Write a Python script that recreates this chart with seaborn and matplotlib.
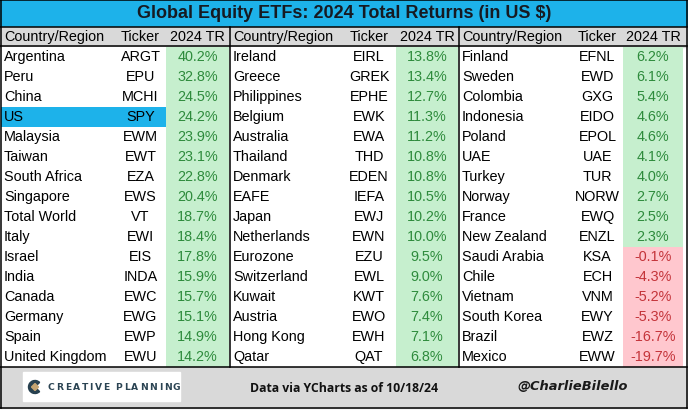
import numpy as np
import matplotlib
matplotlib.use("Agg")
import matplotlib.pyplot as plt
from matplotlib.colors import ListedColormap
from matplotlib.patches import Rectangle, Wedge, Polygon
import seaborn as sns

countries_1 = ["Argentina", "Peru", "China", "US", "Malaysia", "Taiwan", "South Africa",
               "Singapore", "Total World", "Italy", "Israel", "India", "Canada",
               "Germany", "Spain", "United Kingdom"]
tickers_1 = ["ARGT", "EPU", "MCHI", "SPY", "EWM", "EWT", "EZA", "EWS", "VT", "EWI",
             "EIS", "INDA", "EWC", "EWG", "EWP", "EWU"]
returns_1 = [40.2, 32.8, 24.5, 24.2, 23.9, 23.1, 22.8, 20.4, 18.7, 18.4, 17.8, 15.9,
             15.7, 15.1, 14.9, 14.2]

countries_2 = ["Ireland", "Greece", "Philippines", "Belgium", "Australia", "Thailand",
               "Denmark", "EAFE", "Japan", "Netherlands", "Eurozone", "Switzerland",
               "Kuwait", "Austria", "Hong Kong", "Qatar"]
tickers_2 = ["EIRL", "GREK", "EPHE", "EWK", "EWA", "THD", "EDEN", "IEFA", "EWJ", "EWN",
             "EZU", "EWL", "KWT", "EWO", "EWH", "QAT"]
returns_2 = [13.8, 13.4, 12.7, 11.3, 11.2, 10.8, 10.8, 10.5, 10.2, 10.0, 9.5, 9.0,
             7.6, 7.4, 7.1, 6.8]

countries_3 = ["Finland", "Sweden", "Colombia", "Indonesia", "Poland", "UAE", "Turkey",
               "Norway", "France", "New Zealand", "Saudi Arabia", "Chile", "Vietnam",
               "South Korea", "Brazil", "Mexico"]
tickers_3 = ["EFNL", "EWD", "GXG", "EIDO", "EPOL", "UAE", "TUR", "NORW", "EWQ", "ENZL",
             "KSA", "ECH", "VNM", "EWY", "EWZ", "EWW"]
returns_3 = [6.2, 6.1, 5.4, 4.6, 4.6, 4.1, 4.0, 2.7, 2.5, 2.3, -0.1, -4.3, -5.2, -5.3,
             -16.7, -19.7]

highlight = "US"
headers = ["Country/Region", "Ticker", "2024 TR"]
title = "Global Equity ETFs: 2024 Total Returns (in US $)"

# ---- style ----
W, H = 688, 411
CYAN = "#1DB2EA"
GRAY = "#D9D9D9"
GREEN_FILL = "#C6EFCE"
RED_FILL = "#FFC7CE"
GREEN_TXT = "#2E8B3C"
RED_TXT = "#C4343A"
FONT = "Liberation Sans"
FS = 10.4

ROW_TOP, ROW_H, N_ROWS = 47, 20, 16
ROW_BOT = ROW_TOP + ROW_H * N_ROWS

# column edges in pixels: (country, ticker, tr) per group
groups = [
    (countries_1, tickers_1, returns_1, [1, 115, 166, 229]),
    (countries_2, tickers_2, returns_2, [230, 342, 396, 458]),
    (countries_3, tickers_3, returns_3, [459, 572, 623, 683]),
]

cmap = ListedColormap(["white", CYAN, GREEN_FILL, RED_FILL])

fig = plt.figure(figsize=(W / 100, H / 100), dpi=100)
base = fig.add_axes([0, 0, 1, 1])
base.set_xlim(0, W)
base.set_ylim(H, 0)
base.axis("off")

# title band, header band, footer
base.add_patch(Rectangle((0, 0), W, 27.5, color=CYAN, zorder=0))
base.add_patch(Rectangle((0, 27.5), W, ROW_TOP - 27.5, color=GRAY, zorder=0))
base.add_patch(Rectangle((0, ROW_BOT), W, 408 - ROW_BOT, color=GRAY, zorder=0))
base.text(344, 14, title, ha="center", va="center", fontsize=13, fontweight="bold",
          family="Liberation Sans", color="#161a22")


def column_axes(x0, x1):
    return fig.add_axes([x0 / W, 1 - ROW_BOT / H, (x1 - x0) / W, (ROW_BOT - ROW_TOP) / H])


def draw_column(x0, x1, codes, labels, align, colors):
    ax = column_axes(x0, x1)
    sns.heatmap(np.array(codes).reshape(-1, 1), ax=ax, cmap=cmap, vmin=-0.5, vmax=3.5,
                cbar=False, annot=np.array(labels).reshape(-1, 1), fmt="",
                xticklabels=False, yticklabels=False,
                annot_kws={"fontsize": FS, "family": FONT})
    ax.set_xticks([])
    ax.set_yticks([])
    for t, c in zip(ax.texts, colors):
        t.set_color(c)
        if align == "left":
            t.set_ha("left")
            t.set_x(3 / (x1 - x0))
    return ax


for countries, tickers, returns, edges in groups:
    hl = [1 if c == highlight else 0 for c in countries]
    tr_codes = [2 if r >= 0 else 3 for r in returns]
    tr_labels = [f"{r:.1f}%" for r in returns]
    tr_colors = [GREEN_TXT if r >= 0 else RED_TXT for r in returns]
    draw_column(edges[0], edges[1], hl, countries, "left", ["black"] * N_ROWS)
    draw_column(edges[1], edges[2], hl, tickers, "center", ["black"] * N_ROWS)
    draw_column(edges[2], edges[3], tr_codes, tr_labels, "center", tr_colors)

    # header labels
    hy = (27.5 + ROW_TOP) / 2
    base.text(edges[0] + 3, hy, headers[0], ha="left", va="center", fontsize=FS, family=FONT)
    base.text((edges[1] + edges[2]) / 2, hy, headers[1], ha="center", va="center",
              fontsize=FS, family=FONT)
    base.text((edges[2] + edges[3]) / 2, hy, headers[2], ha="center", va="center",
              fontsize=FS, family=FONT)

# footer contents
base.add_patch(Rectangle((23, 372), 157, 29, color="white", zorder=1))
base.add_patch(Wedge((35, 387), 6.5, 45, 315, width=3.6, color="#27404F", zorder=2))
base.add_patch(Polygon([[35, 383.5], [38.5, 387], [35, 390.5], [31.5, 387]],
                       closed=True, color="#C4A472", zorder=3))

# letter-spaced logo lettering: place each glyph after the previous one
renderer = fig.canvas.get_renderer()
x = 48.0
for ch in "CREATIVE PLANNING":
    t = base.text(x, 387, ch, ha="left", va="center", fontsize=6.6,
                  fontweight="bold", family="DejaVu Sans", color="#2B4453", zorder=3)
    if ch == " ":
        x += 4.5
        continue
    x += t.get_window_extent(renderer).width + 1.6

base.text(344, 388, "Data via YCharts as of 10/18/24", ha="center", va="center",
          fontsize=8.8, fontweight="bold", family="Open Sans", color="#111111")
base.text(573, 386, "@CharlieBilello", ha="center", va="center", fontsize=9.4,
          style="italic", fontweight="bold", family="DejaVu Sans", color="#1a1a1a")

# grid lines on top
over = fig.add_axes([0, 0, 1, 1])
over.set_xlim(0, W)
over.set_ylim(H, 0)
over.axis("off")
over.patch.set_alpha(0)
lw = 1.1
for y in [0.5, 27.5, ROW_TOP - 0.5, ROW_BOT, 408]:
    over.plot([0, 687], [y, y], color="black", lw=lw)
for x in [0.7, 686.5]:
    over.plot([x, x], [0, 408], color="black", lw=lw)
for x in [229.5, 458.5]:
    over.plot([x, x], [27.5, ROW_BOT], color="black", lw=lw)

fig.savefig("out.png", dpi=100)
